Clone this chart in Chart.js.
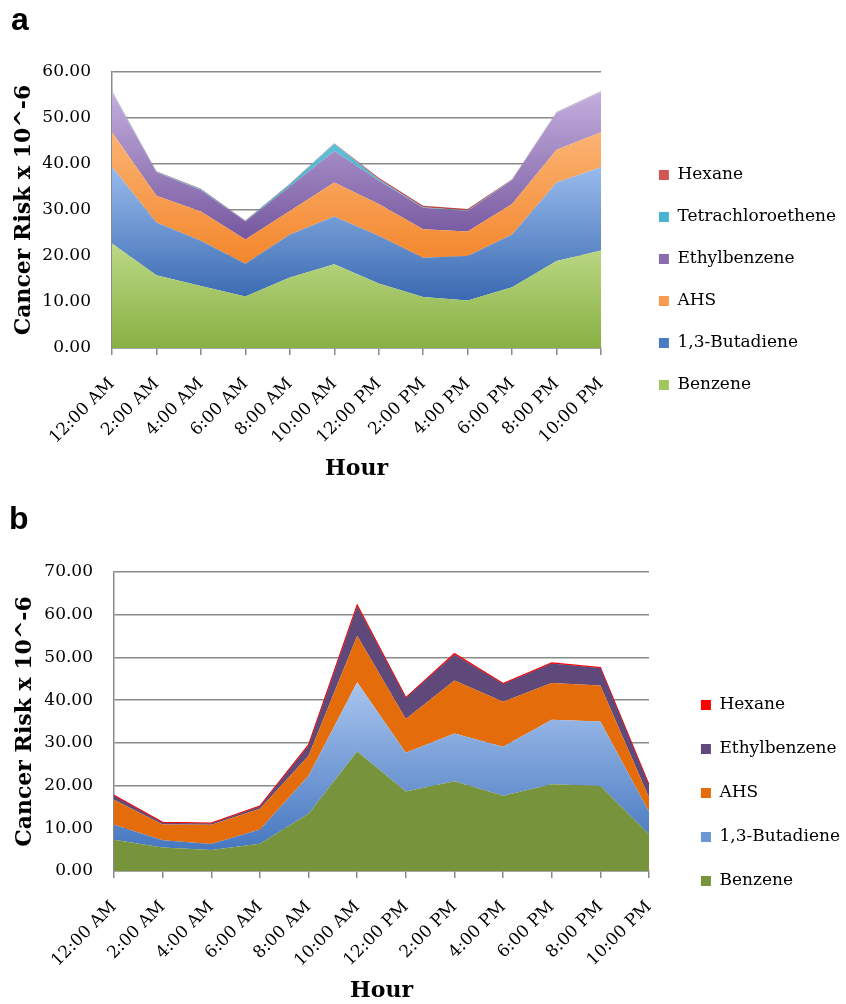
<!DOCTYPE html>
<html>
<head>
<meta charset="utf-8">
<script src="https://cdn.jsdelivr.net/npm/chart.js@4"></script>
<style>
  html, body { margin: 0; padding: 0; background: #fff; overflow: hidden; }
  canvas { position: absolute; left: 0; }
  #graficoA { top: 0; }
  #graficoB { top: 500px; }
</style>
</head>
<body>
<canvas id="graficoA" width="846" height="500"></canvas>
<canvas id="graficoB" width="850" height="504"></canvas>
<script>
const horas = ['12:00 AM', '2:00 AM', '4:00 AM', '6:00 AM', '8:00 AM', '10:00 AM',
               '12:00 PM', '2:00 PM', '4:00 PM', '6:00 PM', '8:00 PM', '10:00 PM'];

// painel a
const benzenoA   = [22.7, 15.8, 13.5, 11.2, 15.3, 18.2, 14.0, 11.1, 10.3, 13.2, 18.9, 21.2];
const butadienoA = [16.7, 11.5, 9.8, 7.1, 9.4, 10.4, 10.4, 8.5, 9.7, 11.5, 17.1, 18.1];
const ahsA       = [7.5, 5.8, 6.4, 5.3, 5.1, 7.4, 6.9, 6.2, 5.3, 6.6, 7.1, 7.6];
const etilA      = [8.7, 5.1, 4.6, 3.9, 5.3, 6.8, 5.1, 4.7, 4.5, 5.2, 8.0, 8.7];
const tetraA     = [0.2, 0.1, 0.2, 0.1, 0.5, 1.6, 0.3, 0.1, 0.1, 0.1, 0.1, 0.1];
const hexanoA    = [0.1, 0.1, 0.1, 0.1, 0.1, 0.1, 0.3, 0.3, 0.3, 0.1, 0.1, 0.1];

// painel b
const benzenoB   = [7.3, 5.5, 4.9, 6.4, 13.4, 28.0, 18.6, 21.0, 17.6, 20.3, 19.9, 8.6];
const butadienoB = [3.5, 1.7, 1.4, 3.3, 8.9, 16.2, 9.1, 11.2, 11.5, 15.1, 15.1, 5.3];
const ahsB       = [5.9, 3.7, 4.5, 4.9, 4.7, 10.9, 7.9, 12.4, 10.5, 8.6, 8.4, 3.3];
const etilB      = [0.9, 0.4, 0.3, 0.5, 2.3, 6.9, 4.9, 6.1, 4.2, 4.6, 4.1, 2.9];
const hexanoB    = [0.1, 0.1, 0.1, 0.1, 0.2, 0.3, 0.1, 0.2, 0.1, 0.1, 0.1, 0.1];

const ticksA = { min: 0, max: 60, step: 10 };
const ticksB = { min: 0, max: 70, step: 10 };

const serif = 'DejaVu Serif';
const cinza = '#8a8a8a';

function larguraTexto(font, s) {
    const c = document.createElement('canvas').getContext('2d');
    c.font = font;
    return c.measureText(s).width;
}

// gradiente vertical sobre a faixa de cada serie empilhada
function gradiente(cores, series, idx) {
    return function(ctx) {
        const chart = ctx.chart;
        if (!chart.chartArea) return cores[0];
        if (cores.length === 1) return cores[0];
        const y = chart.scales.y;
        let topo = 0, base = Infinity;
        for (let k = 0; k < series[idx].length; k++) {
            let abaixo = 0;
            for (let j = 0; j < idx; j++) abaixo += series[j][k];
            topo = Math.max(topo, abaixo + series[idx][k]);
            base = Math.min(base, abaixo);
        }
        const g = chart.ctx.createLinearGradient(0, y.getPixelForValue(topo), 0, y.getPixelForValue(base));
        g.addColorStop(0, cores[0]);
        g.addColorStop(1, cores[1]);
        return g;
    };
}

function montaGrafico(id, cfg) {
    const series = cfg.series;
    const datasets = series.map((d, i) => ({
        label: cfg.nomes[i],
        data: d,
        fill: i === 0 ? 'origin' : '-1',
        backgroundColor: gradiente(cfg.cores[i], series, i),
        borderColor: cfg.bordas[i] || 'rgba(0,0,0,0)',
        borderWidth: cfg.bordas[i] ? 1.2 : 0,
        pointRadius: 0,
        tension: 0
    }));

    const fonteLegenda = '17px "' + serif + '"';
    const maiorTexto = Math.max(...cfg.nomes.map(n => larguraTexto(fonteLegenda, n)));
    const larguraLegenda = cfg.legPad + 10 + 8.5 + maiorTexto + 10;
    const esquerdaLegenda = cfg.largura - larguraLegenda;
    const folgaDireita = esquerdaLegenda - cfg.plotDir;

    new Chart(document.getElementById(id), {
        type: 'line',
        data: { labels: horas, datasets: datasets },
        options: {
            responsive: false,
            animation: false,
            devicePixelRatio: 1,
            layout: { padding: { left: cfg.padEsq, right: 0, top: 0, bottom: 0 } },
            scales: {
                x: {
                    grid: { drawOnChartArea: false, drawTicks: true, tickLength: 7, color: cinza, lineWidth: 1.5 },
                    border: { display: true, color: cinza, width: 1.5 },
                    ticks: {
                        autoSkip: false, minRotation: 45, maxRotation: 45, padding: 19,
                        color: '#000', font: { family: serif, size: 17 }
                    },
                    title: {
                        display: true, text: 'Hour', color: '#000',
                        font: { family: serif, size: 22, weight: 'bold' },
                        padding: { top: 0, bottom: cfg.horaPad }
                    },
                    afterFit: s => { s.height = cfg.alturaX; }
                },
                y: {
                    stacked: true,
                    min: cfg.ticks.min, max: cfg.ticks.max,
                    grid: { drawTicks: false, color: cinza, lineWidth: 1.5 },
                    border: { display: true, color: cinza, width: 1.5 },
                    ticks: {
                        stepSize: cfg.ticks.step, padding: 21, color: '#000',
                        font: { family: serif, size: 17 },
                        callback: v => v.toFixed(2)
                    },
                    title: {
                        display: true, text: 'Cancer Risk x 10^-6', color: '#000',
                        font: { family: serif, size: 22, weight: 'bold' },
                        padding: { top: cfg.tituloYPad, bottom: 0 }
                    },
                    afterFit: s => { s.width = cfg.larguraY; }
                },
                folga: {
                    type: 'linear', position: 'right', display: true,
                    grid: { display: false }, border: { display: false }, ticks: { display: false },
                    afterFit: s => { s.width = folgaDireita; }
                }
            },
            plugins: {
                title: {
                    display: true, text: cfg.letra, align: 'start', color: '#000',
                    font: { family: 'Liberation Sans', size: 32, weight: 'bold' },
                    padding: { top: cfg.letraPad[0], bottom: cfg.letraPad[1] }
                },
                legend: {
                    position: 'right', align: 'start', reverse: true, maxWidth: 400,
                    title: { display: true, text: ' ', font: { size: 10 }, padding: { top: cfg.legTopo, bottom: 0 } },
                    labels: {
                        boxWidth: 10, boxHeight: 10, padding: cfg.legPad, color: '#000',
                        font: { family: serif, size: 17 },
                        generateLabels: chart => {
                            const itens = Chart.defaults.plugins.legend.labels.generateLabels(chart);
                            itens.forEach(it => {
                                it.fillStyle = cfg.corLegenda[it.datasetIndex];
                                it.strokeStyle = cfg.corLegenda[it.datasetIndex];
                                it.lineWidth = 0;
                            });
                            return itens;
                        }
                    }
                },
                tooltip: { enabled: false }
            }
        }
    });
}

document.addEventListener('DOMContentLoaded', function() {
    montaGrafico('graficoA', {
        letra: 'a',
        series: [benzenoA, butadienoA, ahsA, etilA, tetraA, hexanoA],
        nomes: ['Benzene', '1,3-Butadiene', 'AHS', 'Ethylbenzene', 'Tetrachloroethene', 'Hexane'],
        cores: [['#bcd986', '#89b043'], ['#98bbec', '#3a69b1'], ['#fbb373', '#f3862b'],
                ['#c3aedd', '#76579f'], ['#78d2e5', '#3aa7c3'], ['#dc6865', '#b9403d']],
        bordas: [null, null, null, null, null, null],
        corLegenda: ['#a0c65e', '#4a7cc4', '#f89a50', '#8a6bae', '#48b4d0', '#cf5655'],
        ticks: ticksA,
        largura: 846, plotDir: 601, padEsq: 11, larguraY: 101, tituloYPad: 0,
        alturaX: 152, horaPad: 18, letraPad: [1.8, 31.8],
        legPad: 25, legTopo: 129.5
    });

    montaGrafico('graficoB', {
        letra: 'b',
        series: [benzenoB, butadienoB, ahsB, etilB, hexanoB],
        nomes: ['Benzene', '1,3-Butadiene', 'AHS', 'Ethylbenzene', 'Hexane'],
        cores: [['#77933c'], ['#a9c5ef', '#4677bf'], ['#e46c0a'], ['#5f497a'], ['#ff0000']],
        bordas: [null, null, null, null, '#ff0000'],
        corLegenda: ['#77933c', '#6b97d6', '#e46c0a', '#604a7b', '#ff0000'],
        ticks: ticksB,
        largura: 850, plotDir: 649, padEsq: 9, larguraY: 105, tituloYPad: 3,
        alturaX: 133, horaPad: 0, letraPad: [0.6, 33],
        legPad: 27, legTopo: 157.5
    });
});
</script>
</body>
</html>
